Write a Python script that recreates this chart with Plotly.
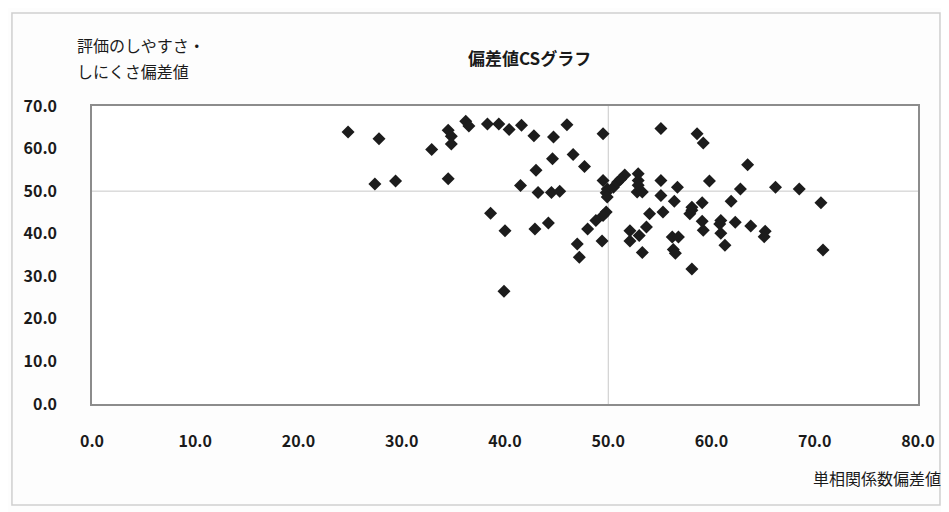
import plotly.graph_objects as go

# Data
x_vals = [24.8, 27.8, 27.4, 29.4, 32.9, 34.5, 34.8, 34.8, 34.5, 36.2,
          36.5, 38.3, 39.4, 40.4, 38.6, 40.0, 41.6, 42.8, 44.7, 46.0,
          49.5, 55.1, 58.6, 59.2, 44.6, 46.6, 43.0, 47.7, 41.5, 43.2,
          44.5, 45.3, 49.5, 49.9, 49.8, 50.5, 50.9, 51.6, 51.2, 49.9,
          49.8, 49.5, 48.8, 48.0, 47.0, 49.4, 47.2, 52.9, 52.9, 52.8,
          53.3, 55.1, 55.1, 56.7, 56.4, 55.3, 54.0, 53.7, 53.0, 52.1,
          52.1, 53.3, 58.1, 57.9, 56.2, 56.8, 56.3, 56.5, 58.1, 42.9,
          44.2, 39.9, 63.5, 59.8, 62.8, 66.2, 68.5, 70.6, 59.1, 61.9,
          58.1, 59.1, 59.2, 60.9, 60.9, 62.3, 63.8, 65.2, 65.1, 61.3,
          70.8, 52.9, 60.8]
y_vals = [63.9, 62.3, 51.7, 52.4, 59.8, 64.3, 62.9, 61.1, 52.9, 66.4,
          65.3, 65.8, 65.8, 64.5, 44.8, 40.7, 65.5, 63.0, 62.7, 65.6,
          63.5, 64.7, 63.5, 61.3, 57.6, 58.6, 54.9, 55.8, 51.3, 49.7,
          49.7, 50.0, 52.5, 50.5, 49.6, 50.9, 52.1, 53.8, 52.8, 48.6,
          45.1, 44.3, 43.1, 41.1, 37.6, 38.3, 34.5, 54.1, 52.5, 49.8,
          49.8, 52.5, 49.0, 50.9, 47.6, 45.1, 44.7, 41.6, 39.6, 40.7,
          38.3, 35.6, 45.5, 44.7, 39.2, 39.2, 36.3, 35.4, 31.7, 41.1,
          42.5, 26.5, 56.2, 52.4, 50.5, 50.9, 50.5, 47.3, 47.3, 47.6,
          46.2, 42.9, 40.8, 43.1, 40.1, 42.7, 41.8, 40.6, 39.3, 37.3,
          36.2, 51.4, 42.3]

x_ticks = [0, 10, 20, 30, 40, 50, 60, 70, 80]
y_ticks = [0, 10, 20, 30, 40, 50, 60, 70]
ref_value = 50.0

title_text = "偏差値CSグラフ"
y_title_lines = ["評価のしやすさ・", "しにくさ偏差値"]
x_title = "単相関係数偏差値"

FONT = "Noto Sans CJK JP"

fig = go.Figure()
fig.add_trace(go.Scatter(
    x=x_vals, y=y_vals, mode="markers",
    marker=dict(symbol="diamond", size=10, color="#1c1c1c",
                line=dict(width=0)),
    showlegend=False, hoverinfo="x+y",
))

axis_common = dict(
    showgrid=False, zeroline=False, showline=True, linecolor="#8c8c8c",
    linewidth=1.5, mirror=True, ticks="",
    tickfont=dict(family=FONT, size=16, color="#1a1a1a", weight="bold"),
)

annotations = [
    dict(text=title_text, xref="paper", yref="paper", x=0.53, y=1.164,
         xanchor="center", yanchor="middle", showarrow=False,
         font=dict(family=FONT, size=17, color="#1a1a1a", weight="bold")),
    dict(text=x_title, xref="paper", yref="paper", x=1.03, y=-0.248,
         xanchor="right", yanchor="middle", showarrow=False,
         font=dict(family=FONT, size=16, color="#1a1a1a")),
]
for line_text, ypos in zip(y_title_lines, [1.205, 1.118]):
    annotations.append(dict(
        text=line_text, xref="paper", yref="paper", x=-0.02, y=ypos,
        xanchor="left", yanchor="middle", showarrow=False,
        font=dict(family=FONT, size=16, color="#1a1a1a")))

fig.update_layout(
    width=941, height=504,
    margin=dict(l=84, r=31, t=98, b=108),
    paper_bgcolor="#fdfdfd", plot_bgcolor="#ffffff",
    xaxis=dict(range=[0, 80], tickvals=x_ticks,
               ticktext=[f"{v:.1f}" for v in x_ticks],
               ticklabelstandoff=22, **axis_common),
    yaxis=dict(range=[0, 70], tickvals=y_ticks,
               ticktext=[f"{v:.1f}" for v in y_ticks],
               ticklabelstandoff=30, **axis_common),
    shapes=[
        dict(type="line", xref="x", yref="paper", x0=ref_value, x1=ref_value,
             y0=0, y1=1, line=dict(color="#c8c8c8", width=1), layer="below"),
        dict(type="line", xref="paper", yref="y", x0=0, x1=1,
             y0=ref_value, y1=ref_value, line=dict(color="#c8c8c8", width=1),
             layer="below"),
        dict(type="rect", xref="paper", yref="paper",
             x0=-0.0969, x1=1.0266, y0=-0.339, y1=1.312,
             line=dict(color="#cfcfcf", width=1.5), layer="below"),
    ],
    annotations=annotations,
)

fig.write_html("out.html")
